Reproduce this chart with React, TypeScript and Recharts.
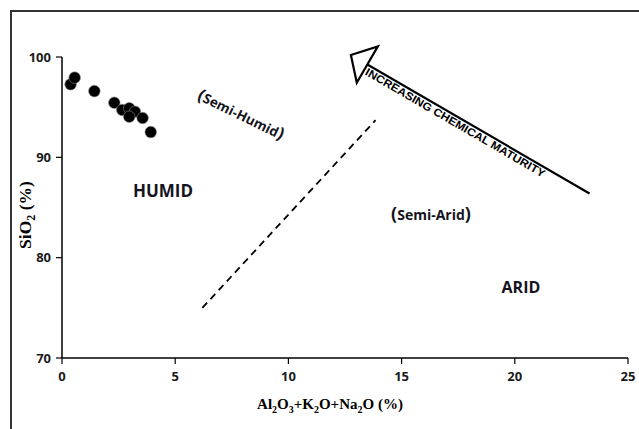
import React from 'react';
import { ScatterChart, Scatter, XAxis, YAxis, ReferenceLine, ReferenceDot } from 'recharts';

// Data
const oxideSum = [0.38, 0.56, 1.43, 2.31, 2.66, 2.97, 3.22, 2.97, 3.56, 3.92];
const silica = [97.28, 97.94, 96.6, 95.44, 94.72, 94.89, 94.55, 94.05, 93.92, 92.52];
const xTicks = [0, 5, 10, 15, 20, 25];
const yTicks = [70, 80, 90, 100];
const boundaryLine = [{ x: 6.2, y: 75 }, { x: 13.85, y: 93.7 }];
const maturityArrow = [{ x: 23.3, y: 86.4 }, { x: 12.76, y: 100.2 }];
const regionNames = ['HUMID', '(Semi-Humid)', '(Semi-Arid)', 'ARID'];
const regionX = [4.46, 7.9, 16.3, 20.27];
const regionY = [86.64, 94.2, 84.25, 77.1];
const arrowText = 'INCREASING CHEMICAL MATURITY';

const data = oxideSum.map((x, i) => ({ x, y: silica[i] }));

const SANS = '"Open Sans", "Liberation Sans", Arial, sans-serif';
const SERIF = '"Liberation Serif", "Times New Roman", serif';

const Dot = (p: any) => (
  <circle cx={p.cx} cy={p.cy} r={5.8} fill="#000" stroke="#8a8a8a" strokeWidth={0.6} />
);

const ArrowShape = (p: any) => {
  const { x1, y1, x2, y2 } = p;
  const dx = x2 - x1;
  const dy = y2 - y1;
  const len = Math.sqrt(dx * dx + dy * dy);
  const ux = dx / len;
  const uy = dy / len;
  const nx = -uy;
  const ny = ux;
  const headLen = 19;
  const halfW = 21;
  const bx = x2 - ux * headLen;
  const by = y2 - uy * headLen;
  const pts = `${x2},${y2} ${bx + nx * halfW},${by + ny * halfW} ${bx - nx * halfW},${by - ny * halfW}`;
  const angle = (Math.atan2(-uy, -ux) * 180) / Math.PI;
  const shaftLen = len - headLen;
  const tcx = bx - ux * shaftLen * 0.41;
  const tcy = by - uy * shaftLen * 0.41;
  return (
    <g>
      <line x1={x1} y1={y1} x2={bx} y2={by} stroke="#000" strokeWidth={2.2} />
      <polygon points={pts} fill="#fff" stroke="#000" strokeWidth={2.2} strokeLinejoin="miter" />
      <text
        x={tcx}
        y={tcy}
        dy={10}
        transform={`rotate(${angle} ${tcx} ${tcy})`}
        textAnchor="middle"
        fontFamily='"Liberation Sans", Arial, sans-serif'
        fontWeight="bold"
        fontSize={11}
        textLength={206}
        lengthAdjust="spacingAndGlyphs"
        fill="#000"
      >
        {arrowText}
      </text>
    </g>
  );
};

const paren = (name: string, size: number, psize: number) => {
  if (name.startsWith('(')) {
    return [
      <tspan key="a" fontSize={psize}>(</tspan>,
      <tspan key="b" fontSize={size}>{name.slice(1, -1)}</tspan>,
      <tspan key="c" fontSize={psize}>)</tspan>,
    ];
  }
  return name;
};

const regionStyle = [
  { size: 17, psize: 17, rot: 0 },
  { size: 13.5, psize: 17, rot: 26 },
  { size: 14, psize: 18, rot: 0 },
  { size: 16, psize: 16, rot: 0 },
];

const makeRegionShape = (i: number) => (p: any) => {
  const s = regionStyle[i];
  return (
    <text
      x={p.cx}
      y={p.cy}
      dy="0.36em"
      textAnchor="middle"
      transform={s.rot ? `rotate(${s.rot} ${p.cx} ${p.cy})` : undefined}
      fontFamily={SANS}
      fontWeight="bold"
      fontSize={s.size}
      fill="#141420"
    >
      {paren(regionNames[i], s.size, s.psize)}
    </text>
  );
};

const XLabel = (props: any) => {
  const vb = props.viewBox;
  const cx = vb.x + vb.width / 2 - 15;
  const y = 409;
  return (
    <text x={cx} y={y} textAnchor="middle" fontFamily={SERIF} fontWeight="bold" fontSize={15} fill="#000">
      Al<tspan fontSize={10} dy={4}>2</tspan>
      <tspan dy={-4}>O</tspan>
      <tspan fontSize={10} dy={4}>3</tspan>
      <tspan dy={-4}>+K</tspan>
      <tspan fontSize={10} dy={4}>2</tspan>
      <tspan dy={-4}>O+Na</tspan>
      <tspan fontSize={10} dy={4}>2</tspan>
      <tspan dy={-4}>O (%)</tspan>
    </text>
  );
};

const YLabel = () => {
  const cx = 31;
  const cy = 215;
  return (
    <text
      x={cx}
      y={cy}
      textAnchor="middle"
      transform={`rotate(-90 ${cx} ${cy})`}
      fontFamily={SERIF}
      fontWeight="bold"
      fontSize={17.5}
      fill="#000"
    >
      SiO<tspan fontSize={12} dy={4}>2</tspan>
      <tspan dy={-4}> (%)</tspan>
    </text>
  );
};

const tickStyle = { fontFamily: SANS, fontWeight: 'bold', fontSize: 13, fill: '#1a1a1a' };

export default function App() {
  return (
    <div style={{ position: 'absolute', left: 0, top: 0, width: 639, height: 429, background: '#fff', overflow: 'hidden' }}>
      <div
        style={{
          position: 'absolute',
          left: 10,
          top: 10,
          width: 640,
          height: 430,
          borderTop: '2px solid #333',
          borderLeft: '2px solid #333',
        }}
      />
      <div style={{ position: 'absolute', left: 0, top: 0 }}>
        <ScatterChart width={639} height={429} margin={{ top: 57, right: 11, bottom: 0, left: 0 }}>
          <XAxis
            type="number"
            dataKey="x"
            domain={[0, 25]}
            ticks={xTicks}
            height={71}
            axisLine={{ stroke: '#000', strokeWidth: 1.5 }}
            tickLine={{ stroke: '#000', strokeWidth: 1.2 }}
            tickSize={6}
            tickMargin={8}
            tick={tickStyle}
            label={<XLabel />}
          />
          <YAxis
            type="number"
            dataKey="y"
            domain={[70, 100]}
            ticks={yTicks}
            width={62}
            axisLine={{ stroke: '#000', strokeWidth: 1.5 }}
            tickLine={{ stroke: '#000', strokeWidth: 1.2 }}
            tickSize={6}
            tickMargin={5}
            tick={tickStyle}
            label={<YLabel />}
          />
          <ReferenceLine
            segment={boundaryLine}
            stroke="#000"
            strokeWidth={1.8}
            strokeDasharray="7 5"
            ifOverflow="visible"
          />
          <ReferenceLine segment={maturityArrow} ifOverflow="visible" shape={<ArrowShape />} />
          {regionNames.map((n, i) => (
            <ReferenceDot
              key={n}
              x={regionX[i]}
              y={regionY[i]}
              r={0}
              ifOverflow="visible"
              shape={makeRegionShape(i)}
            />
          ))}
          <Scatter data={data} isAnimationActive={false} shape={<Dot />} />
        </ScatterChart>
      </div>
    </div>
  );
}
